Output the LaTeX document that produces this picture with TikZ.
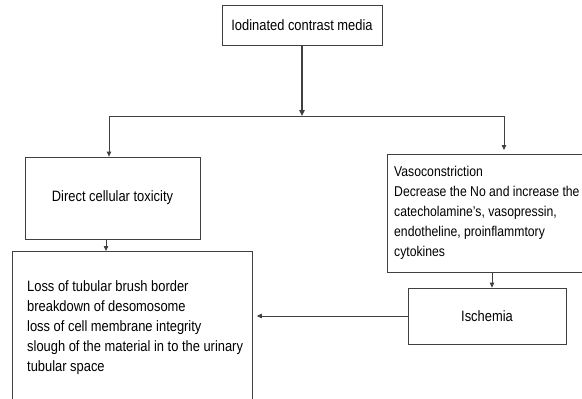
\documentclass[tikz,border=0pt]{standalone}
\usepackage{fontspec}
\setmainfont{Liberation Sans}[FakeStretch=0.86]
\usetikzlibrary{arrows.meta}
\begin{document}
\begin{tikzpicture}[x=1pt,y=-1pt,
  box/.style={draw=black!75, line width=0.8pt, inner sep=0pt},
  txt/.style={font=\fontsize{15}{20}\selectfont, text=black},
  vtxt/.style={font=\fontsize{14.2}{20}\selectfont, text=black},
  conn/.style={draw=black!75, line width=0.8pt},
  arr/.style={conn, -{Triangle[length=5pt,width=4.5pt]}}]
\useasboundingbox (0,0) rectangle (582,399);
\clip (0,0) rectangle (582,399);
% nodes
\node[box, txt, minimum width=160pt, minimum height=40pt] (icm) at (302,25) {Iodinated contrast media};
\node[box, txt, minimum width=175pt, minimum height=82pt] (dct) at (112.5,198) {Direct cellular toxicity};
\node[box, minimum width=240pt, minimum height=170pt, anchor=north west] (loss) at (12,251) {};
\node[txt, align=left, inner sep=0pt, anchor=north west] (losstext) at (27,280) {Loss of tubular brush border\\breakdown of desomosome\\loss of cell membrane integrity\\slough of the material in to the urinary\\tubular space};
\node[box, minimum width=220pt, minimum height=118pt, anchor=north west] (vaso) at (387,154) {};
\node[vtxt, align=left, inner sep=0pt, anchor=north west] (vasotext) at (394,166.5) {Vasoconstriction\\Decrease the No and increase the\\catecholamine’s, vasopressin,\\endotheline, proinflammtory\\cytokines};
\node[box, txt, minimum width=158pt, minimum height=56pt] (isch) at (487,316) {Ischemia};
% connectors
\coordinate (split) at (302,116);
\coordinate (lcorner) at (109,116);
\coordinate (rcorner) at (504,116);
\coordinate (rend) at (504,150);
\draw[conn, line width=1.6pt, -{Triangle[length=6pt,width=5.5pt]}] (icm.south) -- (split);
\draw[conn] (lcorner) -- (rcorner);
\draw[arr] (lcorner) -- (lcorner |- dct.north);
\draw[arr] (rcorner) -- (rend);
\draw[arr] (dct.south -| 106,0) -- (loss.north -| 106,0);
\draw[arr] (vaso.south -| 492,0) -- (isch.north -| 492,0);
\draw[arr] (isch.west) -- ([xshift=4pt]loss.east |- isch.west);
\end{tikzpicture}
\end{document}
